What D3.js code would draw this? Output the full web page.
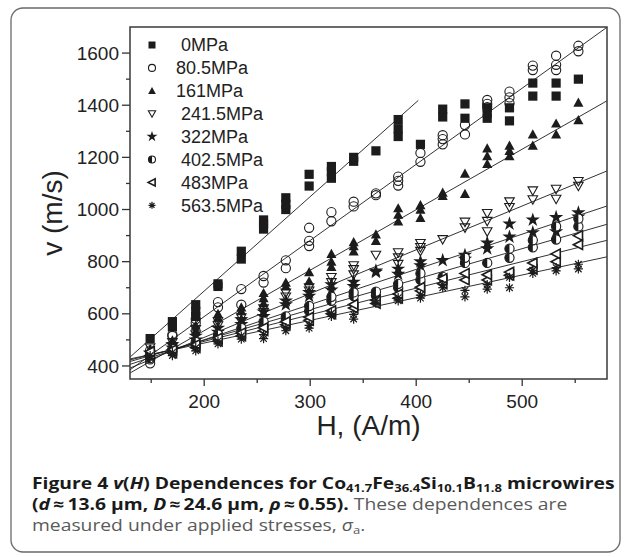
<!DOCTYPE html>
<html><head><meta charset="utf-8">
<script src="https://cdn.jsdelivr.net/npm/d3@7/dist/d3.min.js"></script>
<style>
html,body{margin:0;padding:0;background:#fff;}
svg{display:block;}
</style></head>
<body>
<svg id="chart" width="627" height="557"></svg>
<script>
// ---------- data ----------
const fieldH = [149,170,192,213,235,256,277,299,320,341,362,383,404,425,446,467,488,510,532,553];
const seriesNames = [" 0MPa","80.5MPa","161MPa"," 241.5MPa"," 322MPa"," 402.5MPa"," 483MPa"," 563.5MPa"];
const v0   = [[505],[550,570],[590,610,635],[705,715],[810,840],[925,945,960],[1000,1020,1045],[1090,1135],[1120,1145,1165],[1185,1200],[1225],[1280,1310,1345],[1250],[1355,1385],[1350,1405],[1350,1370,1390],[1340,1390],[1435,1485],[1435,1485],[1500]];
const v80  = [[410,425,460],[515,520],[565,580],[625,645],[635,695],[720,745],[775,805],[860,880,930],[955,990],[1012,1030],[1055,1062],[1092,1110,1126],[1183,1217],[1250,1270,1285],[1288,1324],[1393,1405,1420],[1408,1430,1452],[1535,1552],[1535,1555,1590],[1607,1628]];
const v161 = [[450,465],[480,498],[535,555],[585,600],[610,625],[640,660,680],[705,720],[725,760],[780,800,830],[840,860,875],[880,905],[955,980,1005],[968,1000,1017],[1052,1065],[1060,1138],[1175,1205,1235],[1205,1225,1245],[1245,1288],[1288,1330],[1343,1410]];
const v241 = [[470],[475,490],[520,540],[555,570],[570,585],[605,620],[665,680],[688,700],[720,740],[750,770,785],[825],[790,815,835],[840,855,870],[885],[930,952],[915,955,985],[1008,1030],[1038,1072],[1040,1078],[1090,1108]];
const v322 = [[450],[470,482],[500,515],[530,545],[560,578],[590,608],[635,650],[668,682],[692,712],[705,722],[760,765],[752,772],[785,800],[805],[810,825],[850,872],[895,945],[912,960],[915,970],[972,988]];
const v402 = [[430,445],[455,465],[480,492],[508,520],[530,545],[555,570],[575,590],[610,630],[650,665],[668,682],[670,685],[700,715],[730,755],[742],[795,815],[795],[815,850],[855,882],[885,935],[935,965]];
const v483 = [[440,455],[450,462],[470,482],[495,507],[515,527],[535,547],[558,570],[575,587],[600,612],[622,636],[640,652],[660,676],[688,702],[715,735],[730,755],[730,750],[748,760],[770,795],[800,830],[865,900]];
const v563 = [[428,440],[440,452],[458,470],[485,495],[503,515],[505,520],[535,547],[545,556],[590,602],[580,598],[640,652],[650,662],[660,672],[700,712],[665,690],[695,712],[700,740],[755,767],[765,777],[772,790]];
// linear fits: v = slope*H + intercept, drawn up to fitHmax
const fitSlope     = [3.62, 2.92, 2.32, 1.68, 1.35, 1.17, 1.02, 0.87];
const fitIntercept = [-36.6, 5.4, 71.4, 173.6, 230.5, 264.9, 290.4, 313.9];
const fitHmax      = [402, 580, 580, 580, 580, 580, 580, 580];
const xTicks = [200,300,400,500];
const yTicks = [400,600,800,1000,1200,1400,1600];

// ---------- layout ----------
const svg = d3.select("#chart");
const L = 130, R = 607, T = 27, B = 379;
const x = d3.scaleLinear().domain([130,580]).range([L,R]);
const y = d3.scaleLinear().domain([350,1700]).range([B,T]);
const ink = "#1c1c1c";
const FONT = "'Liberation Sans', Arial, Helvetica, sans-serif";

// outer rounded frame
svg.append("rect").attr("x",11).attr("y",8).attr("width",609).attr("height",544)
  .attr("rx",12).attr("ry",12).attr("fill","none").attr("stroke","#6a6a6a").attr("stroke-width",1.3);

// clip
svg.append("clipPath").attr("id","clip").append("rect")
  .attr("x",L).attr("y",T).attr("width",R-L).attr("height",B-T);

// marker drawing
function marker(g, type, k){
  switch(type){
    case 0: g.append("rect").attr("x",-k/2).attr("y",-k/2).attr("width",k).attr("height",k).attr("fill",ink); break;
    case 1: g.append("circle").attr("r",k/2).attr("fill","#fff").attr("fill-opacity",0).attr("stroke",ink).attr("stroke-width",1.1); break;
    case 2: g.append("path").attr("d",`M0,${-k*0.55}L${k*0.55},${k*0.45}L${-k*0.55},${k*0.45}Z`).attr("fill",ink); break;
    case 3: g.append("path").attr("d",`M0,${k*0.5}L${k*0.52},${-k*0.42}L${-k*0.52},${-k*0.42}Z`).attr("fill","none").attr("stroke",ink).attr("stroke-width",1.1); break;
    case 4: g.append("path").attr("d",d3.symbol().type(d3.symbolStar).size(k*k*0.75)()).attr("fill",ink); break;
    case 5: {
      const r = k/2;
      g.append("circle").attr("r",r).attr("fill","#fff").attr("stroke",ink).attr("stroke-width",1.1);
      g.append("path").attr("d",`M0,${-r}A${r},${r} 0 0 0 0,${r}Z`).attr("fill",ink);
      break; }
    case 6: g.append("path").attr("d",`M${-k*0.55},0L${k*0.45},${-k*0.52}L${k*0.45},${k*0.52}Z`).attr("fill","#fff").attr("stroke",ink).attr("stroke-width",1.6); break;
    case 7: {
      const r = k/2, p = [];
      for(let i=0;i<4;i++){const a=i*Math.PI/4; p.push(`M${-r*Math.cos(a)},${-r*Math.sin(a)}L${r*Math.cos(a)},${r*Math.sin(a)}`);}
      g.append("path").attr("d",p.join("")).attr("stroke",ink).attr("stroke-width",1.2).attr("fill","none");
      break; }
  }
}

const allSeries = [v0,v80,v161,v241,v322,v402,v483,v563];

// fit lines
const plot = svg.append("g").attr("clip-path","url(#clip)");
fitSlope.forEach((m,i)=>{
  const h0 = 130, h1 = fitHmax[i];
  plot.append("line")
    .attr("x1",x(h0)).attr("y1",y(m*h0+fitIntercept[i]))
    .attr("x2",x(h1)).attr("y2",y(m*h1+fitIntercept[i]))
    .attr("stroke",ink).attr("stroke-width",0.9);
});

// points
allSeries.forEach((ser,si)=>{
  const g = plot.append("g");
  ser.forEach((vals,j)=>vals.forEach(v=>{
    const m = g.append("g").attr("transform",`translate(${x(fieldH[j])},${y(v)})`);
    marker(m, si, 9.2);
  }));
});

// axes: tick marks and labels
const xAxis = svg.append("g").attr("transform",`translate(0,${B})`);
const yAxis = svg.append("g").attr("transform",`translate(${L},0)`);
const minorX = d3.range(150,580,100), minorY = d3.range(500,1700,200);
xAxis.selectAll(".mj").data(xTicks).enter().append("line")
  .attr("x1",d=>x(d)).attr("x2",d=>x(d)).attr("y1",0).attr("y2",7).attr("stroke","#333").attr("stroke-width",1.3);
xAxis.selectAll(".mn").data(minorX).enter().append("line")
  .attr("x1",d=>x(d)).attr("x2",d=>x(d)).attr("y1",0).attr("y2",4).attr("stroke","#333").attr("stroke-width",1.3);
yAxis.selectAll(".mj").data(yTicks).enter().append("line")
  .attr("y1",d=>y(d)).attr("y2",d=>y(d)).attr("x1",0).attr("x2",-8).attr("stroke","#333").attr("stroke-width",1.3);
yAxis.selectAll(".mn").data(minorY).enter().append("line")
  .attr("y1",d=>y(d)).attr("y2",d=>y(d)).attr("x1",0).attr("x2",-4).attr("stroke","#333").attr("stroke-width",1.3);
xAxis.selectAll(".tl").data(xTicks).enter().append("text")
  .attr("x",d=>x(d)).attr("y",29).attr("text-anchor","middle")
  .attr("font-family",FONT).attr("font-size",19).attr("fill","#222").text(d=>d);
yAxis.selectAll(".tl").data(yTicks).enter().append("text")
  .attr("x",-11).attr("y",d=>y(d)).attr("dy","0.35em").attr("text-anchor","end")
  .attr("font-family",FONT).attr("font-size",19).attr("fill","#222").text(d=>d);

// frame of plot
svg.append("rect").attr("x",L).attr("y",T).attr("width",R-L).attr("height",B-T)
  .attr("fill","none").attr("stroke","#3a3a3a").attr("stroke-width",1.5);

// axis titles
svg.append("text").attr("x",(L+R)/2).attr("y",435).attr("text-anchor","middle")
  .attr("font-family",FONT).attr("font-size",28).attr("fill","#222").text("H, (A/m)");
svg.append("text").attr("transform",`translate(52,${(T+B)/2+10}) rotate(-90)`)
  .attr("text-anchor","middle").attr("dy","0.35em")
  .attr("font-family",FONT).attr("font-size",28).attr("fill","#222").text("v (m/s)");

// legend
const lg = svg.append("g");
seriesNames.forEach((name,i)=>{
  const yy = 45 + i*22.9;
  const m = lg.append("g").attr("transform",`translate(152,${yy})`);
  marker(m, i, 7);
  lg.append("text").attr("x",176).attr("y",yy).attr("dy","0.35em")
    .attr("font-family",FONT).attr("font-size",18).attr("fill","#222")
    .style("white-space","pre").text(name);
});

// caption
const CF = "'Open Sans','Noto Sans',sans-serif";
const cap = svg.append("g");
const lines = [
  [ {t:"Figure 4 ",b:1}, {t:"v",b:1,i:1}, {t:"(",b:1}, {t:"H",b:1,i:1}, {t:") Dependences for Co",b:1},
    {t:"41.7",b:1,s:1}, {t:"Fe",b:1}, {t:"36.4",b:1,s:1}, {t:"Si",b:1}, {t:"10.1",b:1,s:1}, {t:"B",b:1}, {t:"11.8",b:1,s:1}, {t:" microwires",b:1} ],
  [ {t:"(",b:1}, {t:"d",b:1,i:1}, {t:"\u2009\u2248\u200913.6 \u03bcm, ",b:1}, {t:"D",b:1,i:1}, {t:"\u2009\u2248\u200924.6 \u03bcm, ",b:1},
    {t:"\u03c1",b:1,i:1}, {t:"\u2009\u2248\u20090.55).",b:1}, {t:" These dependences are"} ],
  [ {t:"measured under applied stresses, "}, {t:"\u03c3",i:1}, {t:"a",s:1}, {t:"."} ]
];
const capTexts = [];
lines.forEach((ln,li)=>{
  const tx = cap.append("text").attr("x",0).attr("y",li*21)
    .attr("font-family",CF).attr("font-size",15.5).style("white-space","pre");
  let sub = false;
  ln.forEach(seg=>{
    const ts = tx.append("tspan").text(seg.t)
      .attr("font-weight",seg.b?700:400)
      .attr("fill",seg.b?"#1a1a1a":"#5a5a5a");
    if(seg.i) ts.attr("font-style","italic");
    if(seg.s && !sub){ ts.attr("dy",3).attr("font-size",10.5); sub=true; }
    else if(seg.s){ ts.attr("font-size",10.5); }
    else if(sub){ ts.attr("dy",-3); sub=false; }
  });
  capTexts.push(tx);
});
const w1 = capTexts[0].node().getComputedTextLength();
const sx = 583 / w1;
cap.attr("transform",`translate(32,489) scale(${sx},1)`);
</script>
</body></html>
